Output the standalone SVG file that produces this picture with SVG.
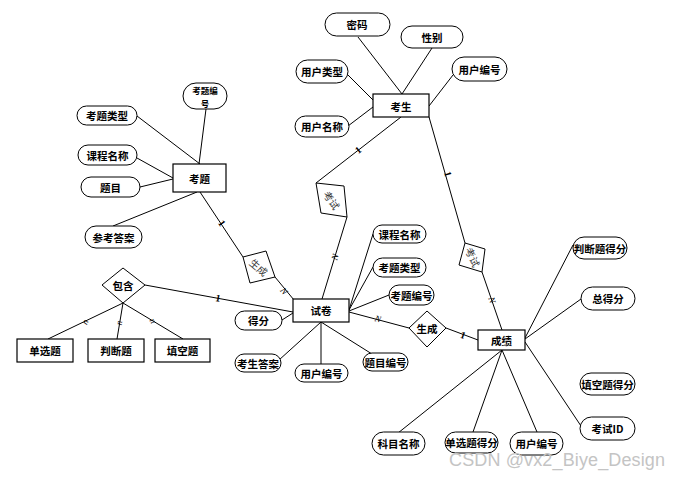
<svg xmlns="http://www.w3.org/2000/svg" width="681" height="478" viewBox="0 0 681 478">
<style>
.ent{fill:#fff;stroke:#000;stroke-width:1.2}
.att{fill:#fff;stroke:#000;stroke-width:1}
.rel{fill:#fff;stroke:#000;stroke-width:1}
.t{font-family:"Noto Sans CJK SC","Liberation Sans",sans-serif;font-size:10.5px;font-weight:bold;fill:#000;text-anchor:middle;dominant-baseline:central}
.t2{font-family:"Noto Sans CJK SC","Liberation Sans",sans-serif;font-size:8.5px;font-weight:bold;fill:#000;text-anchor:middle;dominant-baseline:central}
.rt{font-family:"Noto Sans CJK SC","Liberation Sans",sans-serif;font-size:10px;fill:#333;text-anchor:middle;dominant-baseline:central}
.c line{stroke:#000;stroke-width:1}
.m{font-family:"Liberation Serif",serif;font-size:10px;font-weight:bold;fill:#000;text-anchor:middle;dominant-baseline:central}
.mi{font-family:"Liberation Serif",serif;font-size:9px;font-style:italic;fill:#000;text-anchor:middle;dominant-baseline:central}
</style>
<rect width="681" height="478" fill="#fff"/>
<g class="c" id="connectors">
<line x1="358" y1="37" x2="402" y2="94"/>
<line x1="432" y1="48" x2="402" y2="94"/>
<line x1="348" y1="75" x2="373" y2="100"/>
<line x1="348" y1="126" x2="373" y2="107"/>
<line x1="453" y1="75" x2="429" y2="106"/>
<line x1="401" y1="117" x2="316" y2="183"/>
<line x1="347" y1="217" x2="322" y2="299"/>
<line x1="429" y1="117" x2="465" y2="243"/>
<line x1="482" y1="272" x2="502" y2="330"/>
<line x1="206" y1="109" x2="199" y2="164"/>
<line x1="137" y1="116" x2="200" y2="164"/>
<line x1="137" y1="158" x2="173" y2="178"/>
<line x1="140" y1="187" x2="173" y2="179"/>
<line x1="113" y1="226" x2="197" y2="192"/>
<line x1="200" y1="192" x2="243" y2="257"/>
<line x1="275" y1="277" x2="294" y2="300"/>
<line x1="145" y1="285" x2="293" y2="312"/>
<line x1="123" y1="303" x2="48" y2="339"/>
<line x1="123" y1="303" x2="117" y2="339"/>
<line x1="123" y1="303" x2="183" y2="339"/>
<line x1="282" y1="320" x2="293" y2="313"/>
<line x1="279" y1="360" x2="321" y2="322"/>
<line x1="321" y1="322" x2="321" y2="364"/>
<line x1="321" y1="322" x2="372" y2="354"/>
<line x1="349" y1="310" x2="373" y2="234"/>
<line x1="349" y1="310" x2="373" y2="267"/>
<line x1="349" y1="311" x2="389" y2="295"/>
<line x1="349" y1="312" x2="409" y2="328"/>
<line x1="446" y1="328" x2="478" y2="340"/>
<line x1="525" y1="338" x2="573" y2="245"/>
<line x1="525" y1="339" x2="581" y2="299"/>
<line x1="525" y1="342" x2="581" y2="426"/>
<line x1="502" y1="350" x2="398" y2="433"/>
<line x1="502" y1="350" x2="473" y2="432"/>
<line x1="502" y1="350" x2="537" y2="432"/>
<text class="m" transform="translate(358,150) rotate(-38)">1</text>
<text class="mi" transform="translate(335,257) rotate(-73)">N</text>
<text class="m" transform="translate(222,223) rotate(56)">1</text>
<text class="mi" transform="translate(284,291) rotate(50)">N</text>
<text class="m" transform="translate(218,298) rotate(10)">1</text>
<text class="mi" transform="translate(378,319) rotate(15)">N</text>
<text class="m" transform="translate(463,335) rotate(20)">1</text>
<text class="m" transform="translate(448,174) rotate(74)">1</text>
<text class="mi" transform="translate(492,300) rotate(71)">N</text>
<text class="mi" transform="translate(85,322) rotate(-64)">n</text>
<text class="mi" transform="translate(119,323) rotate(-84)">n</text>
<text class="mi" transform="translate(153,321) rotate(59)">n</text>
</g>
<g id="kaosheng"><rect class="ent" x="373" y="94" width="56" height="23"/><text class="t" x="401" y="106">考生</text></g>
<g id="a-mima"><rect class="att" x="325" y="13" width="65" height="23" rx="11.5"/><text class="t" x="357" y="24">密码</text></g>
<g id="a-xingbie"><rect class="att" x="401" y="26" width="62" height="22" rx="11"/><text class="t" x="432" y="37">性别</text></g>
<g id="a-yhlx"><rect class="att" x="296" y="60" width="52" height="23" rx="11.5"/><text class="t" x="322" y="71.5">用户类型</text></g>
<g id="a-yhbh1"><rect class="att" x="452" y="57" width="55" height="24" rx="12"/><text class="t" x="479.5" y="69">用户编号</text></g>
<g id="a-yhmc"><rect class="att" x="295" y="116" width="54" height="21" rx="10.5"/><text class="t" x="322" y="126.5">用户名称</text></g>
<g id="kaoti"><rect class="ent" x="173" y="164" width="53" height="28"/><text class="t" x="199.5" y="178">考题</text></g>
<g id="a-ktbh"><rect class="att" x="183" y="83" width="44" height="26" rx="13"/><text class="t2"><tspan x="205" y="89.5">考题编</tspan><tspan x="205" y="102.5">号</tspan></text></g>
<g id="a-ktlx"><rect class="att" x="77" y="106" width="60" height="19" rx="9.5"/><text class="t" x="107" y="115.5">考题类型</text></g>
<g id="a-kcmc1"><rect class="att" x="78" y="145" width="59" height="20" rx="10"/><text class="t" x="107.5" y="155">课程名称</text></g>
<g id="a-timu"><rect class="att" x="81" y="177" width="59" height="20" rx="10"/><text class="t" x="110.5" y="187">题目</text></g>
<g id="a-ckda"><rect class="att" x="85" y="226" width="57" height="22" rx="11"/><text class="t" x="113.5" y="237">参考答案</text></g>
<g id="baohan"><polygon class="rel" points="102,285 123,268 145,285 123,303"/><text class="t" x="123" y="285.5">包含</text></g>
<g id="danxuan"><rect class="ent" x="17" y="339" width="56" height="23"/><text class="t" x="45" y="350.5">单选题</text></g>
<g id="panduan"><rect class="ent" x="88" y="339" width="56" height="23"/><text class="t" x="116" y="350.5">判断题</text></g>
<g id="tiankong"><rect class="ent" x="155" y="339" width="55" height="23"/><text class="t" x="182.5" y="350.5">填空题</text></g>
<g id="kaoshi1"><polygon class="rel" points="316,183 344,186 347,217 321,213"/><text class="rt" transform="translate(332,200) rotate(55)">考试</text></g>
<g id="shengcheng1"><polygon class="rel" points="243,257 266,251 275,277 250,283"/><text class="rt" transform="translate(259,267) rotate(40)">生成</text></g>
<g id="kaoshi2"><polygon class="rel" points="465,243 485,249 482,272 459,265"/><text class="rt" transform="translate(473,257) rotate(65)">考试</text></g>
<g id="shijuan"><rect class="ent" x="293" y="299" width="56" height="23"/><text class="t" x="321" y="310.5">试卷</text></g>
<g id="a-defen"><rect class="att" x="235" y="311" width="47" height="19" rx="9.5"/><text class="t" x="258.5" y="320.5">得分</text></g>
<g id="a-ksda"><rect class="att" x="235" y="354" width="46" height="18" rx="9"/><text class="t" x="258" y="363">考生答案</text></g>
<g id="a-yhbh2"><rect class="att" x="295" y="364" width="53" height="18" rx="9"/><text class="t" x="321.5" y="373">用户编号</text></g>
<g id="a-tmbh"><rect class="att" x="363" y="353" width="45" height="18" rx="9"/><text class="t" x="385.5" y="362">题目编号</text></g>
<g id="a-kcmc2"><rect class="att" x="373" y="225" width="53" height="18" rx="9"/><text class="t" x="399.5" y="234">课程名称</text></g>
<g id="a-ktlx2"><rect class="att" x="373" y="258" width="53" height="19" rx="9.5"/><text class="t" x="399.5" y="267.5">考题类型</text></g>
<g id="a-ktbh2"><rect class="att" x="389" y="285" width="45" height="20" rx="10"/><text class="t" x="411.5" y="295">考题编号</text></g>
<g id="shengcheng2"><polygon class="rel" points="409,328 427,311 446,328 427,347"/><text class="t" x="427" y="328.5">生成</text></g>
<g id="chengji"><rect class="ent" x="478" y="330" width="47" height="20"/><text class="t" x="501.5" y="340">成绩</text></g>
<g id="a-pdtdf"><rect class="att" x="573" y="237" width="54" height="22" rx="11"/><text class="t" x="600" y="248">判断题得分</text></g>
<g id="a-zdf"><rect class="att" x="581" y="287" width="54" height="23" rx="11.5"/><text class="t" x="608" y="298.5">总得分</text></g>
<g id="a-tktdf"><rect class="att" x="580" y="373" width="55" height="22" rx="11"/><text class="t" x="607.5" y="384">填空题得分</text></g>
<g id="a-ksid"><rect class="att" x="580" y="417" width="55" height="23" rx="11.5"/><text class="t" x="607.5" y="428.5">考试ID</text></g>
<g id="a-kmmc"><rect class="att" x="372" y="432" width="53" height="23" rx="11.5"/><text class="t" x="398.5" y="443.5">科目名称</text></g>
<g id="a-dxtdf"><rect class="att" x="445" y="432" width="53" height="21" rx="10.5"/><text class="t" x="471.5" y="442.5">单选题得分</text></g>
<g id="a-yhbh3"><rect class="att" x="510" y="432" width="53" height="23" rx="11.5"/><text class="t" x="536.5" y="443.5">用户编号</text></g>
<text x="449" y="466" font-family="'Liberation Sans',sans-serif" font-size="18" fill="#c4c4c4" textLength="216">CSDN @vx2_Biye_Design</text>
</svg>
